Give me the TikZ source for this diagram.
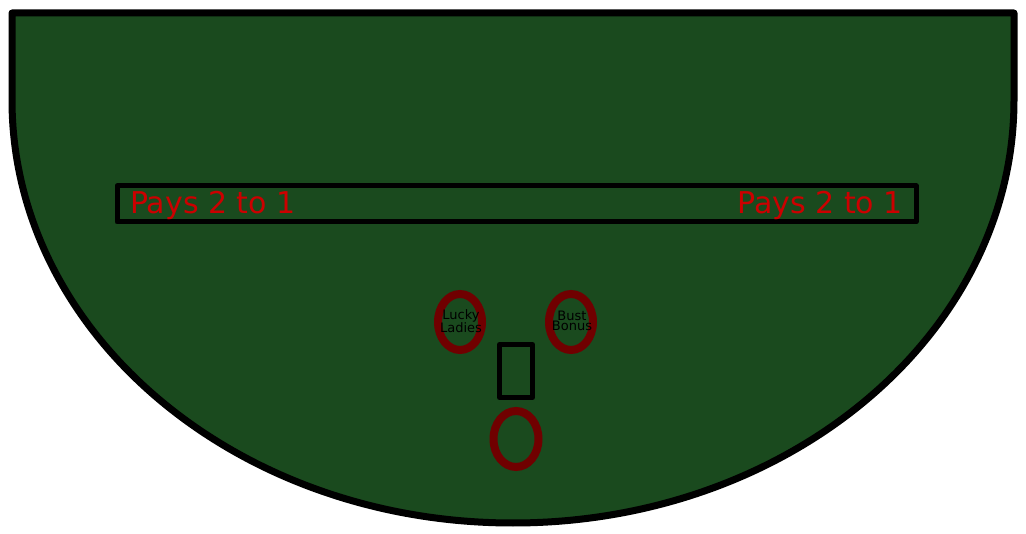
\documentclass[tikz,border=0pt]{standalone}
\usepackage{fontspec}
\setmainfont{DejaVu Sans}
\usetikzlibrary{shapes.geometric}

\definecolor{felt}{RGB}{26,74,30}
\definecolor{payred}{RGB}{204,0,0}
\definecolor{spotred}{RGB}{112,0,0}

\begin{document}
\begin{tikzpicture}[x=1pt, y=-1pt,
    spot/.style={draw=spotred, line width=8pt, ellipse, minimum width=44pt, minimum height=56pt, inner sep=0pt},
    spottext/.style={font=\fontsize{13}{7.5}\selectfont, align=center, inner sep=0pt},
    pays/.style={text=payred, font=\fontsize{30}{30}\selectfont, inner sep=0pt}]
  \useasboundingbox (0,0) rectangle (1026,534);
  % Table
  \draw[line width=7pt, line join=round, fill=felt]
    (12,13) -- (1014,13) -- (1014,100)
    arc[start angle=0, end angle=180, x radius=501, y radius=423] -- cycle;
  % Insurance bar
  \draw[line width=5pt, line join=round] (117,186) rectangle (916,222);
  \node[pays, anchor=base west] (payl) at (130,214) {Pays 2 to 1};
  \node[pays, anchor=base east] (payr) at (903,214) {Pays 2 to 1};
  % Side bets
  \node[spot] (lucky) at (460,322) {};
  \node[spottext] (luckyt) at (461,321) {Lucky\\Ladies};
  \node[spot] (bust) at (571,322) {};
  \node[spottext] (bustt) at (572,321) {Bust\\Bonus};
  % Card box and main bet
  \draw[line width=5pt, line join=round] (499.5,344.5) rectangle (532.5,397.5);
  \node[spot, minimum width=45pt] (main) at (516,439) {};
\end{tikzpicture}
\end{document}
